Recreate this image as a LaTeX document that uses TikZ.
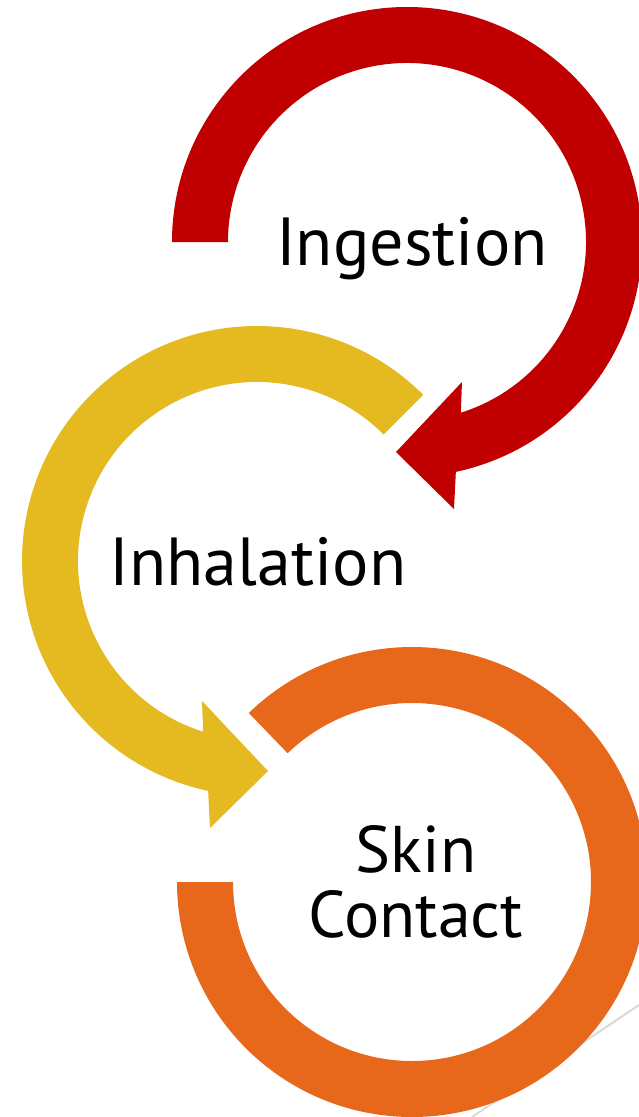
\documentclass[tikz,border=0pt]{standalone}
\usepackage{fontspec}
\setmainfont{PT Sans}
\definecolor{ringred}{HTML}{C00000}
\definecolor{ringyellow}{HTML}{E5B920}
\definecolor{ringorange}{HTML}{E8681B}
\begin{document}
\begin{tikzpicture}[x=1pt,y=1pt,
  ring/.style={fill=#1,draw=none},
  word/.style={font=\fontsize{68}{70}\selectfont,anchor=base,inner sep=0pt}]
\useasboundingbox (0,0) rectangle (639,-1117);
\clip (0,0) rectangle (639,-1117);
\coordinate (cRed) at (407,-242);
\coordinate (cYellow) at (257,-561);
\coordinate (cOrange) at (412,-882);
% faint slide line behind the last ring
\draw[gray!30,line width=2pt] (639,-1005) -- (472,-1117);
% Ingestion
\begin{scope}[shift={(cRed)}]
\fill[ring=ringred] (180:235) arc[start angle=180,end angle=-78,radius=235]
  -- (47,-267) -- (-11,-210) -- (55,-140)
  -- (-72.5:179) arc[start angle=-72.5,end angle=180,radius=179] -- cycle;
\end{scope}
% Inhalation
\begin{scope}[shift={(cYellow)}]
\fill[ring=ringyellow] (45:235) arc[start angle=45,end angle=258,radius=235]
  -- (-47,-267) -- (11,-210) -- (-55,-140)
  -- (252.5:179) arc[start angle=252.5,end angle=45,radius=179] -- cycle;
\end{scope}
% Skin contact
\begin{scope}[shift={(cOrange)}]
\fill[ring=ringorange] (134:235) arc[start angle=134,end angle=-180,radius=235]
  -- (180:179) arc[start angle=-180,end angle=134,radius=179] -- cycle;
\end{scope}
\node[word] (ingest) at (412,-265) {Ingestion};
\node[word] (inhale) at (258,-585) {Inhalation};
\node[word,align=center,font=\fontsize{66}{65}\selectfont] (skin) at (416,-937) {Skin\\Contact};
\end{tikzpicture}
\end{document}
